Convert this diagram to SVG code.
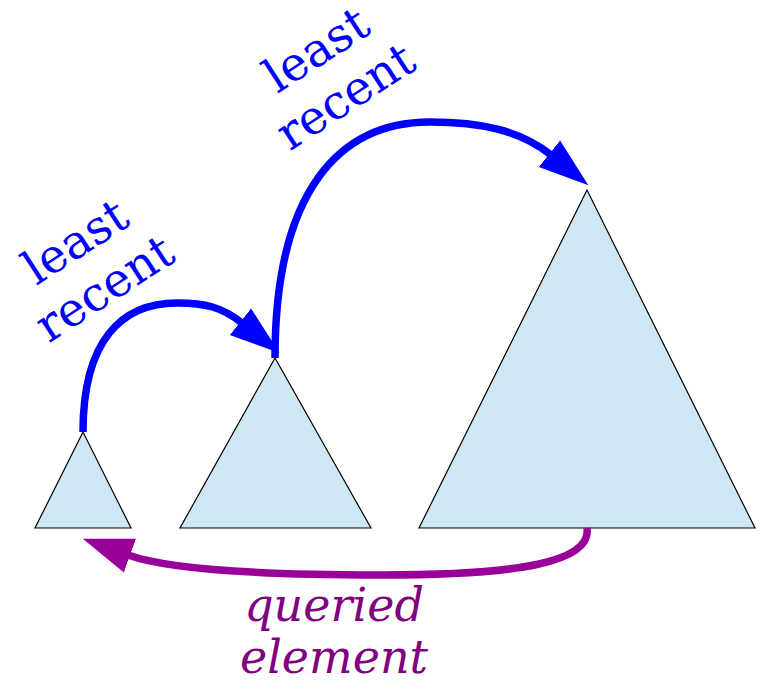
<svg xmlns="http://www.w3.org/2000/svg" width="767" height="680" viewBox="0 0 767 680">
<style>
.tri{fill:#cfe6f3;stroke:#000;stroke-width:1.2;stroke-linejoin:miter}
.blue{fill:none;stroke:#0000ff;stroke-width:7.5}
.purple{fill:none;stroke:#990099;stroke-width:7.5}
.lbl{font-family:"DejaVu Serif","Liberation Serif",serif;font-size:47px;text-anchor:middle;fill:#0000ff}
.q{font-family:"DejaVu Serif","Liberation Serif",serif;font-style:italic;font-size:46px;text-anchor:middle;fill:#800080}
</style>
<defs>
<marker id="ab" markerUnits="userSpaceOnUse" markerWidth="60" markerHeight="40" refX="2" refY="18" orient="auto" viewBox="0 0 60 36">
<path d="M0,1 L50,18 L0,35 Z" fill="#0000ff"/>
</marker>
<marker id="ap" markerUnits="userSpaceOnUse" markerWidth="60" markerHeight="40" refX="2" refY="18" orient="auto" viewBox="0 0 60 36">
<path d="M0,0 L50,18 L0,36 Z" fill="#990099"/>
</marker>
</defs>
<g id="tree-small"><polygon class="tri" points="83,432 35,528 131,528"/></g>
<g id="tree-medium"><polygon class="tri" points="275,358 180,528 371,528"/></g>
<g id="tree-large"><polygon class="tri" points="587,190 419,528 755,528"/></g>
<g id="connectors">
<path class="blue" d="M83,432 C83,340 122,303 177,303 C205,303 222,307 242,323" marker-end="url(#ab)"/>
<path class="blue" d="M275,358 C275,190 340,122 430,122 C480,122 520,130 551,155" marker-end="url(#ab)"/>
<path class="purple" d="M587,528 C592,562 520,575 380,575 C260,575 170,570 128,555" marker-end="url(#ap)"/>
</g>
<g id="label-1" transform="translate(84,255) rotate(-33)">
<text class="lbl" x="0" y="0">least</text>
<text class="lbl" x="-1" y="55">recent</text>
</g>
<g id="label-2" transform="translate(325,63) rotate(-33)">
<text class="lbl" x="0" y="0">least</text>
<text class="lbl" x="-1" y="55">recent</text>
</g>
<g id="label-3">
<text class="q" x="334" y="621">queried</text>
<text class="q" x="334" y="673">element</text>
</g>
</svg>
